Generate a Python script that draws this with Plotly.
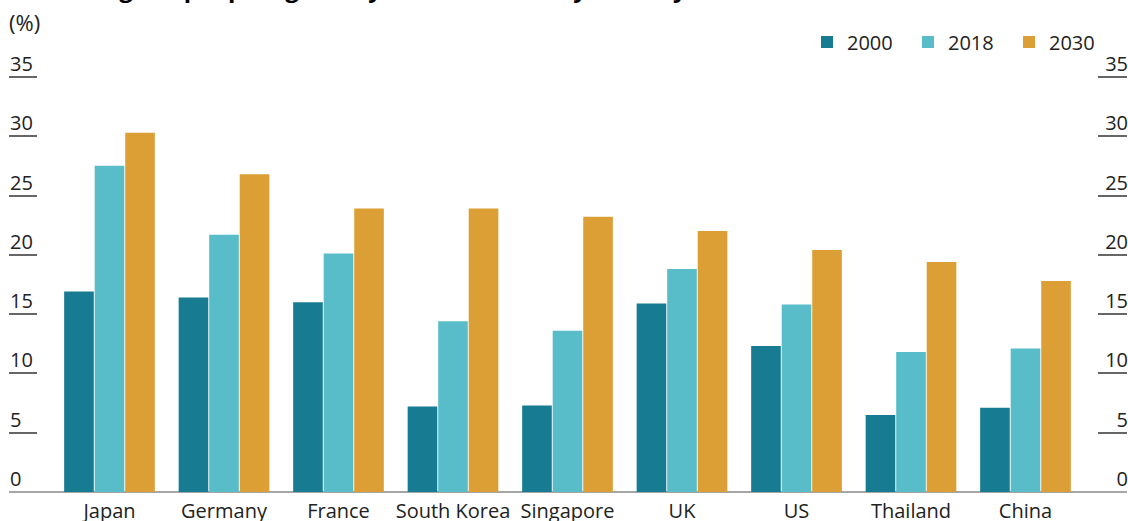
import plotly.graph_objects as go

countries = ["Japan", "Germany", "France", "South Korea", "Singapore", "UK", "US", "Thailand", "China"]
years = ["2000", "2018", "2030"]
v2000 = [16.9, 16.4, 16.0, 7.2, 7.3, 15.9, 12.3, 6.5, 7.1]
v2018 = [27.5, 21.7, 20.1, 14.4, 13.6, 18.8, 15.8, 11.8, 12.1]
v2030 = [30.3, 26.8, 23.9, 23.9, 23.2, 22.0, 20.4, 19.4, 17.8]
y_ticks = [0, 5, 10, 15, 20, 25, 30, 35]
colors = ["#177b92", "#58bdc9", "#dc9f35"]
title_text = "Percentage of people aged 65 years and over, by country"
unit_text = "(%)"

FONT = "Open Sans"
W, H = 1128, 521
ml, mr, mt, mb = 9, 1, 30, 29
plot_w = W - ml - mr
plot_h = H - mt - mb
px_per_cat = 114.5
cat0_px = 109.5
x0 = -(cat0_px - ml) / px_per_cat
x1 = x0 + plot_w / px_per_cat
px_per_unit = 11.86
y_top = plot_h / px_per_unit

fig = go.Figure()
for name, vals, c in zip(years, [v2000, v2018, v2030], colors):
    fig.add_trace(go.Bar(x=countries, y=vals, name=name, marker=dict(color=c, line=dict(width=0))))

axis_tick_font = dict(family=FONT, size=20, color="#222222")
fig.update_layout(
    width=W, height=H,
    margin=dict(l=ml, r=mr, t=mt, b=mb, autoexpand=False),
    paper_bgcolor="white", plot_bgcolor="white",
    barmode="group", bargap=0.2, bargroupgap=0.03,
    showlegend=True,
    legend=dict(orientation="h", x=(1110 - ml) / plot_w, xanchor="right",
                y=(H - mb - 42) / plot_h, yanchor="middle",
                font=dict(family=FONT, size=20, color="#222222"),
                entrywidth=56, traceorder="normal", bgcolor="rgba(0,0,0,0)"),
    xaxis=dict(range=[x0, x1], showgrid=False, showline=False, ticks="", automargin=False,
               tickfont=dict(family=FONT, size=20, color="#222222"),
               ticklabelstandoff=5, fixedrange=True),
    yaxis=dict(range=[0, y_top], tickvals=y_ticks, showgrid=False, showline=False, automargin=False,
               zeroline=True, zerolinecolor="#a6a6a6", zerolinewidth=1.5,
               ticks="inside", ticklen=28, tickwidth=1.5, tickcolor="#666666",
               ticklabelposition="inside", ticklabelstandoff=-26, ticklabelshift=-13,
               tickfont=axis_tick_font),
    yaxis2=dict(range=[0, y_top], tickvals=y_ticks, overlaying="y", side="right", automargin=False,
                showgrid=False, showline=False, zeroline=False,
                ticks="inside", ticklen=29, tickwidth=1.5, tickcolor="#666666",
                ticklabelposition="inside", ticklabelstandoff=-29, ticklabelshift=-13,
                tickfont=axis_tick_font),
    annotations=[
        dict(text=unit_text, xref="paper", yref="paper", x=(7 - ml) / plot_w, xanchor="left",
             y=(H - mb - 22) / plot_h, yanchor="middle", showarrow=False,
             font=dict(family=FONT, size=22, color="#222222")),
        dict(text="<b>" + title_text + "</b>", xref="paper", yref="paper", x=(10 - ml) / plot_w, xanchor="left",
             y=(H - mb - 6) / plot_h, yanchor="bottom", showarrow=False,
             font=dict(family=FONT, size=24, color="#000000")),
    ],
)
# invisible trace to anchor right axis
fig.add_trace(go.Scatter(x=[countries[0]], y=[0], yaxis="y2", mode="markers",
                         marker=dict(opacity=0), showlegend=False, hoverinfo="skip"))

fig.write_html("out.html", config={"displayModeBar": False},
               post_script="document.body.style.margin='0';document.body.style.overflow='hidden';")
